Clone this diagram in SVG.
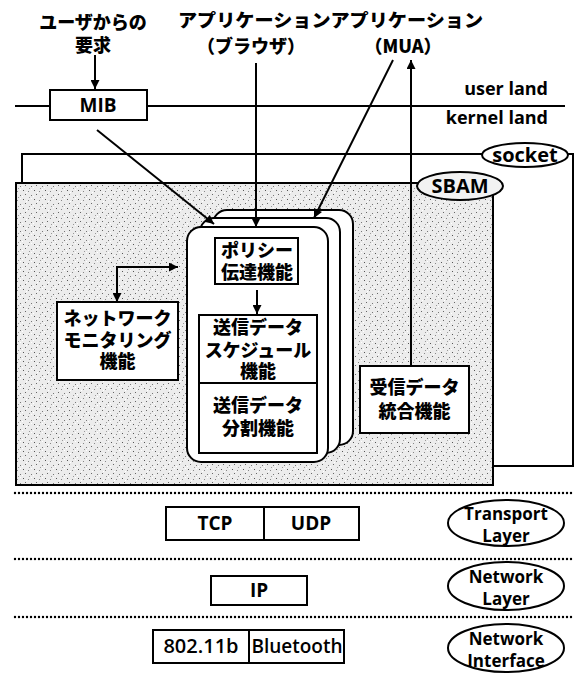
<svg xmlns="http://www.w3.org/2000/svg" width="578" height="673" viewBox="0 0 578 673">
<style>
.ln{stroke:#000;stroke-width:2;fill:none}
.box{stroke:#000;stroke-width:2;fill:#fff}
.dot{stroke:#000;stroke-width:2.4;stroke-dasharray:0 4;stroke-linecap:round;fill:none}
.jp{font-family:"Noto Sans CJK JP","Noto Sans",sans-serif;font-weight:900;font-size:18px;fill:#000;text-anchor:middle}
.en{font-family:"Open Sans","DejaVu Sans",sans-serif;font-weight:700;font-size:17px;fill:#000;text-anchor:middle}
.enr{font-family:"Open Sans","DejaVu Sans",sans-serif;font-weight:700;font-size:19px;fill:#000;text-anchor:middle}
.arr{stroke:#000;stroke-width:2;fill:none;marker-end:url(#ah)}
</style>
<defs>
<marker id="ah" viewBox="0 0 10 10" refX="10" refY="5" markerUnits="userSpaceOnUse" markerWidth="10" markerHeight="9" orient="auto-start-reverse">
<path d="M0,0 L10,5 L0,10 Z" fill="#000"/>
</marker>
<pattern id="stip" width="11" height="9" patternUnits="userSpaceOnUse">
<rect width="11" height="9" fill="#ececec"/>
<rect x="1" y="1" width="1" height="1" fill="#555"/>
<rect x="6" y="2" width="1" height="1" fill="#888"/>
<rect x="3" y="5" width="1" height="1" fill="#666"/>
<rect x="9" y="6" width="1" height="1" fill="#777"/>
<rect x="7" y="8" width="1" height="1" fill="#999"/>
<rect x="4" y="3" width="1" height="1" fill="#fff"/>
<rect x="9" y="0" width="1" height="1" fill="#fff"/>
<rect x="0" y="7" width="1" height="1" fill="#fff"/>
</pattern>
</defs>

<g id="labels-top">
<text class="jp" x="93" y="29">ユーザからの</text>
<text class="jp" x="93" y="52">要求</text>
<text class="jp" x="178" y="27" style="text-anchor:start" textLength="305" lengthAdjust="spacingAndGlyphs">アプリケーションアプリケーション</text>
<text class="jp" x="251" y="53">（ブラウザ）</text>
<text class="jp" x="403" y="53">（MUA）</text>
<text class="en" x="548" y="95" style="text-anchor:end;font-size:18px">user land</text>
<text class="en" x="548" y="124" style="text-anchor:end;font-size:18px">kernel land</text>
</g>

<g id="boundary-lines">
<path class="ln" d="M15,106 H50 M147,106 H565"/>
<path class="dot" d="M15,493 H573"/>
<path class="dot" d="M15,559 H573"/>
<path class="dot" d="M15,617 H573"/>
</g>

<g id="socket">
<path class="ln" d="M22,183 V154 H573 V466 H493"/>
<ellipse cx="525" cy="155" rx="43" ry="12" class="box"/>
<text class="enr" x="525" y="162" style="font-size:20px">socket</text>
</g>

<g id="sbam">
<rect x="16" y="183" width="477" height="302" fill="url(#stip)" stroke="#000" stroke-width="2"/>
<ellipse cx="460" cy="186" rx="43" ry="14" fill="#f2f2f2" stroke="#000" stroke-width="2"/>
<text class="enr" x="460" y="193" style="font-size:20px">SBAM</text>
</g>

<g id="mib">
<rect class="box" x="50" y="90" width="97" height="30"/>
<text class="enr" x="98" y="112">MIB</text>
</g>

<g id="cards">
<rect class="box" x="213" y="210" width="140" height="235" rx="14"/>
<rect class="box" x="200" y="218" width="140" height="235" rx="14"/>
<rect class="box" x="187" y="227" width="141" height="235" rx="14"/>
</g>

<g id="policy">
<rect class="box" x="215" y="238" width="83" height="46"/>
<text class="jp" x="257" y="257">ポリシー</text>
<text class="jp" x="257" y="279">伝達機能</text>
</g>

<g id="schedule">
<rect class="box" x="199" y="315" width="118" height="68"/>
<text class="jp" x="258" y="334">送信データ</text>
<text class="jp" x="258" y="357">スケジュール</text>
<text class="jp" x="258" y="378">機能</text>
</g>

<g id="split">
<rect class="box" x="199" y="383" width="118" height="70"/>
<text class="jp" x="258" y="412">送信データ</text>
<text class="jp" x="258" y="435">分割機能</text>
</g>

<g id="netmon">
<rect class="box" x="57" y="302" width="121" height="78"/>
<text class="jp" x="117.5" y="325">ネットワーク</text>
<text class="jp" x="117.5" y="347">モニタリング</text>
<text class="jp" x="117.5" y="368">機能</text>
</g>

<g id="recv">
<rect class="box" x="360" y="366" width="109" height="67"/>
<text class="jp" x="414.5" y="394">受信データ</text>
<text class="jp" x="414.5" y="418">統合機能</text>
</g>

<g id="tcpudp">
<rect class="box" x="166" y="507" width="193" height="33"/>
<path class="ln" d="M264,507 V540"/>
<text class="enr" x="215" y="530">TCP</text>
<text class="enr" x="311" y="530">UDP</text>
</g>

<g id="ip">
<rect class="box" x="211" y="576" width="96" height="29"/>
<text class="enr" x="259" y="597">IP</text>
</g>

<g id="link">
<rect class="box" x="153" y="630" width="191" height="33"/>
<path class="ln" d="M249,630 V663"/>
<text class="enr" x="201" y="653" style="font-weight:600;font-size:20px">802.11b</text>
<text class="enr" x="297" y="653" style="font-weight:600;font-size:19px">Bluetooth</text>
</g>

<g id="layer-transport">
<ellipse class="box" cx="506" cy="523" rx="58" ry="23"/>
<text class="en" x="506" y="520">Transport</text>
<text class="en" x="506" y="542">Layer</text>
</g>
<g id="layer-network">
<ellipse class="box" cx="506" cy="586" rx="58" ry="24"/>
<text class="en" x="506" y="583">Network</text>
<text class="en" x="506" y="605">Layer</text>
</g>
<g id="layer-interface">
<ellipse class="box" cx="506" cy="648" rx="58" ry="24"/>
<text class="en" x="506" y="645">Network</text>
<text class="en" x="506" y="667">Interface</text>
</g>

<g id="connectors">
<path class="arr" d="M95,55 V89"/>
<path class="arr" d="M256,63 V227"/>
<path class="arr" d="M97,130 L214,224"/>
<path class="arr" d="M393,60 L314,218"/>
<path class="arr" d="M411,366 V60"/>
<path class="arr" d="M257,290 V314"/>
<path class="ln" d="M178,267 H117 V302" marker-start="url(#ah)" marker-end="url(#ah)"/>
</g>
</svg>
